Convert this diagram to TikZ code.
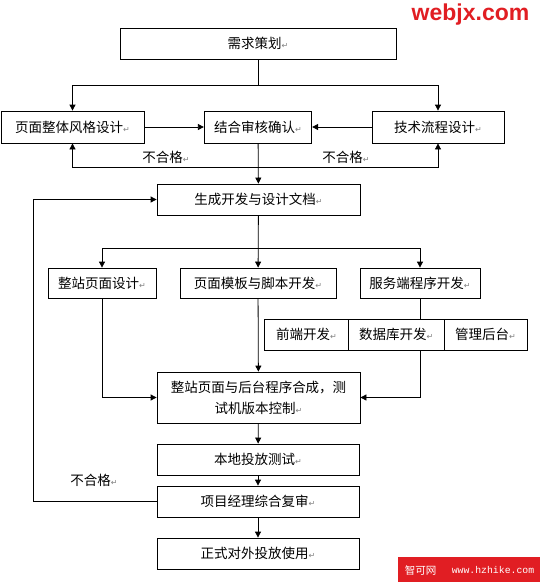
\documentclass[tikz,border=0pt]{standalone}
\usepackage{fontspec}
\setmainfont{Liberation Sans}
\newfontfamily\cjk{Noto Sans CJK SC}
\newfontfamily\symfont{DejaVu Sans}
\newfontfamily\monofont{Liberation Mono}
\usetikzlibrary{arrows.meta}
\definecolor{markred}{RGB}{225,30,35}
\newcommand{\ret}{{\symfont\fontsize{8}{8}\selectfont\textcolor{gray}{↵}}}

\begin{document}
\begin{tikzpicture}[x=1pt, y=-1pt,
    box/.style={draw, line width=0.8pt, inner sep=0pt, minimum height=31pt,
                font=\cjk\fontsize{13.5}{21}\selectfont, align=center},
    lbl/.style={inner sep=0pt, font=\cjk\fontsize{13.5}{16}\selectfont},
    ar/.style={-{Triangle[length=6pt, width=6pt]}, line width=0.8pt},
    ln/.style={line width=0.8pt}
  ]
  \fill[white] (0,0) rectangle (540,582);

  % planning and review
  \node[box, minimum width=276pt] (need) at (258,43.5) {需求策划\ret};
  \node[box, minimum width=143pt, minimum height=32pt] (style) at (72.5,127) {页面整体风格设计\ret};
  \node[box, minimum width=107.5pt, minimum height=32pt] (review) at (258,127) {结合审核确认\ret};
  \node[box, minimum width=132pt, minimum height=32pt] (tech) at (438,127) {技术流程设计\ret};
  \node[box, minimum width=203pt] (doc) at (258.5,199.5) {生成开发与设计文档\ret};

  \coordinate (split1) at (258,85);
  \draw[ln] (need) -- (split1);
  \draw[ar] (split1) -| (style);
  \draw[ar] (split1) -| (tech);
  \draw[ar] (style) -- (review);
  \draw[ar] (tech) -- (review);
  \draw[ar] (review) -- (doc);

  \coordinate (fail1) at (258,167);
  \draw[ar] (fail1) -| (style.south);
  \draw[ar] (fail1) -| (tech.south);
  \node[lbl] (fail1l) at (166,157) {不合格\ret};
  \node[lbl] (fail1r) at (346,157) {不合格\ret};

  % development
  \node[box, minimum width=108pt, minimum height=30pt] (page) at (102,283) {整站页面设计\ret};
  \node[box, minimum width=156pt, minimum height=30pt] (tpl) at (258,283) {页面模板与脚本开发\ret};
  \node[box, minimum width=120pt, minimum height=30pt] (server) at (420,283) {服务端程序开发\ret};
  \node[box, minimum width=84pt] (front) at (306.5,334.5) {前端开发\ret};
  \node[box, minimum width=95.5pt] (db) at (396.25,334.5) {数据库开发\ret};
  \node[box, minimum width=83pt] (admin) at (485.5,334.5) {管理后台\ret};

  \coordinate (split2) at (258,248);
  \draw[ar] (doc) -- (tpl);
  \draw[ar] (split2) -| (page);
  \draw[ar] (split2) -| (server);
  \draw[ln] (server.south) -- (server.south |- db.north);

  % integration and release
  \node[box, minimum width=203pt, minimum height=51pt] (merge) at (258.5,397.5)
       {整站页面与后台程序合成，测\\试机版本控制\ret};
  \node[box, minimum width=202pt] (local) at (258,459.5) {本地投放测试\ret};
  \node[box, minimum width=202pt] (pm) at (258,501.5) {项目经理综合复审\ret};
  \node[box, minimum width=202pt] (release) at (258,553.5) {正式对外投放使用\ret};

  \draw[ar] (page) |- (merge);
  \draw[ar] (tpl) -- (merge);
  \draw[ar] (server.south |- db.south) |- (merge);
  \draw[ar] (merge) -- (local);
  \draw[ar] (local) -- (pm);
  \draw[ar] (pm) -- (release);

  \coordinate (back) at (33,501.5);
  \draw[ar] (pm) -- (back) |- (doc);
  \node[lbl] (fail2) at (94,480) {不合格\ret};

  % watermarks
  \node[inner sep=0pt, text=markred, font=\bfseries\fontsize{23}{23}\selectfont] (mark1) at (470.5,15) {webjx.com};
  \fill[markred] (398,557) rectangle (540,582);
  \node[inner sep=0pt, text=white, font=\cjk\fontsize{10.5}{12}\selectfont] (mark2) at (420.5,570) {智可网};
  \node[inner sep=0pt, text=white, font=\monofont\fontsize{9.8}{12}\selectfont] (mark3) at (493,570) {www.hzhike.com};
\end{tikzpicture}
\end{document}
